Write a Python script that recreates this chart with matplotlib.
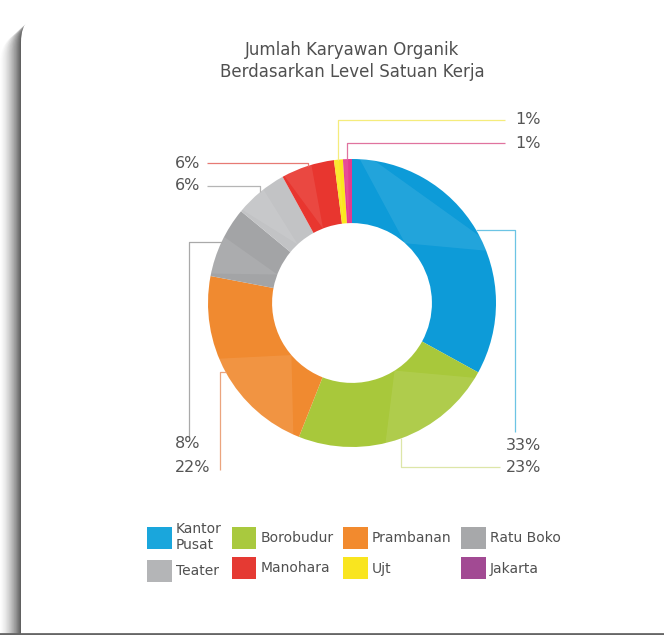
import numpy as np
import matplotlib.pyplot as plt
from matplotlib.patches import Patch, FancyBboxPatch, Polygon

plt.rcParams['font.family'] = ['DejaVu Sans']

categories = ['Kantor Pusat', 'Borobudur', 'Prambanan', 'Ratu Boko',
              'Teater', 'Manohara', 'Ujt', 'Jakarta']
values = [33, 23, 22, 8, 6, 6, 1, 1]
pct_labels = ['33%', '23%', '22%', '8%', '6%', '6%', '1%', '1%']

colors = ['#0d9bd8', '#a8c83b', '#f08a30', '#a3a4a6',
          '#c2c3c5', '#e8362f', '#fbe71d', '#e53b8d']
line_colors = ['#6cc4e4', '#dde6a8', '#eba47e', '#a9a9a9',
               '#b5b5b5', '#e77a74', '#f5ec7c', '#e0739f']
legend_colors = ['#1aa6dc', '#a9c93e', '#f28a2e', '#a7a8aa',
                 '#b4b5b7', '#e53a33', '#f9e51f', '#a24a93']
legend_labels = ['Kantor\nPusat', 'Borobudur', 'Prambanan', 'Ratu Boko',
                 'Teater', 'Manohara', 'Ujt', 'Jakarta']

W, H = 664, 635
fig = plt.figure(figsize=(W / 100, H / 100), dpi=100)

# background card with a soft shadow on the left
bg = fig.add_axes([0, 0, 1, 1])
bg.set_xlim(0, W)
bg.set_ylim(H, 0)
bg.axis('off')
n = 22
dark = 0.9 * (np.arange(n + 1) / n) ** 1.6       # darkness wanted at distance p from left
for d in range(n):
    p = n - d
    a = 1 - (1 - dark[p]) / (1 - dark[p - 1])
    bg.add_patch(FancyBboxPatch((21 - d, 14 + 0.9 * d), 800, 700,
                                boxstyle='round,pad=0,rounding_size=30',
                                fc='#4a4a4a', ec='none', alpha=a, zorder=0))
bg.add_patch(FancyBboxPatch((21, 12), 800, 700,
                            boxstyle='round,pad=0,rounding_size=30',
                            fc='white', ec='none', zorder=1))
bg.plot([0, W], [634, 634], color='#666666', lw=2, zorder=2)

# donut
cx, cy, R = 352, 303, 144
ax = fig.add_axes([(cx - R) / W, (H - cy - R) / H, 2 * R / W, 2 * R / H])
wedges, _ = ax.pie(values, colors=colors, startangle=90, counterclock=False,
                   radius=1, wedgeprops=dict(width=0.445, linewidth=0))
ax.set_xlim(-1, 1)
ax.set_ylim(-1, 1)
ax.axis('off')

# faceted look
r_in = 1 - 0.445
for w in wedges:
    t1, t2 = np.radians(w.theta1), np.radians(w.theta2)
    span = t2 - t1
    a = t1 + 0.4 * span
    tri = Polygon([(1.1 * np.cos(a), 1.1 * np.sin(a)),
                   (1.1 * np.cos(t2), 1.1 * np.sin(t2)),
                   (r_in * np.cos(t1 + 0.65 * span), r_in * np.sin(t1 + 0.65 * span))],
                  closed=True, fc='white', alpha=0.09, lw=0)
    ax.add_patch(tri)
    tri.set_clip_path(w)


def px(x, y):
    return (x - cx) / R, (cy - y) / R


# leader routes: (kind, pixel params, text position)
routes = [
    ('right_down', 515, 432, 541, 446, 'right'),
    ('down_right', 467, 500, 541, 467, 'right'),
    ('left_down', 220, 470, 175, 467, 'left'),
    ('left_down', 189, 437, 175, 444, 'left'),
    ('up_left', 186, 207, 175, 186, 'left'),
    ('up_left', 163, 207, 175, 163, 'left'),
    ('up_right', 120, 505, 541, 120, 'right'),
    ('up_right', 143, 505, 541, 143, 'right'),
]

for w, lab, lc, (kind, p1, p2, tx, ty, ha) in zip(wedges, pct_labels, line_colors, routes):
    mid = np.radians((w.theta1 + w.theta2) / 2)
    axp, ayp = np.cos(mid), np.sin(mid)
    if kind in ('right_down', 'left_down'):
        xv = px(p1, 0)[0]
        yend = px(0, p2)[1]
        xs, ys = [axp, xv, xv], [ayp, ayp, yend]
    else:
        ylab = px(0, p1)[1]
        xend = px(p2, 0)[0]
        xs, ys = [axp, axp, xend], [ayp, ylab, ylab]
    ax.plot(xs, ys, color=lc, lw=0.9, clip_on=False, solid_capstyle='butt')
    fig.text(tx / W, 1 - ty / H, lab, ha=ha, va='center', fontsize=11.5,
             color='#555555')

fig.text(cx / W, 1 - 61 / H, 'Jumlah Karyawan Organik\nBerdasarkan Level Satuan Kerja',
         ha='center', va='center', fontsize=12, color='#505050', linespacing=1.3)

# legend (matplotlib fills columns first)
order = [0, 4, 1, 5, 2, 6, 3, 7]
handles = [Patch(fc=legend_colors[i], ec='none') for i in order]
fig.legend(handles, [legend_labels[i] for i in order], ncol=4,
           loc='center', bbox_to_anchor=(354 / W, 1 - 552 / H),
           frameon=False, fontsize=10, handlelength=1.75, handleheight=2.1,
           handletextpad=0.3, columnspacing=0.72, labelspacing=0.55,
           labelcolor='#505050')

fig.savefig('out.png', dpi=100)
